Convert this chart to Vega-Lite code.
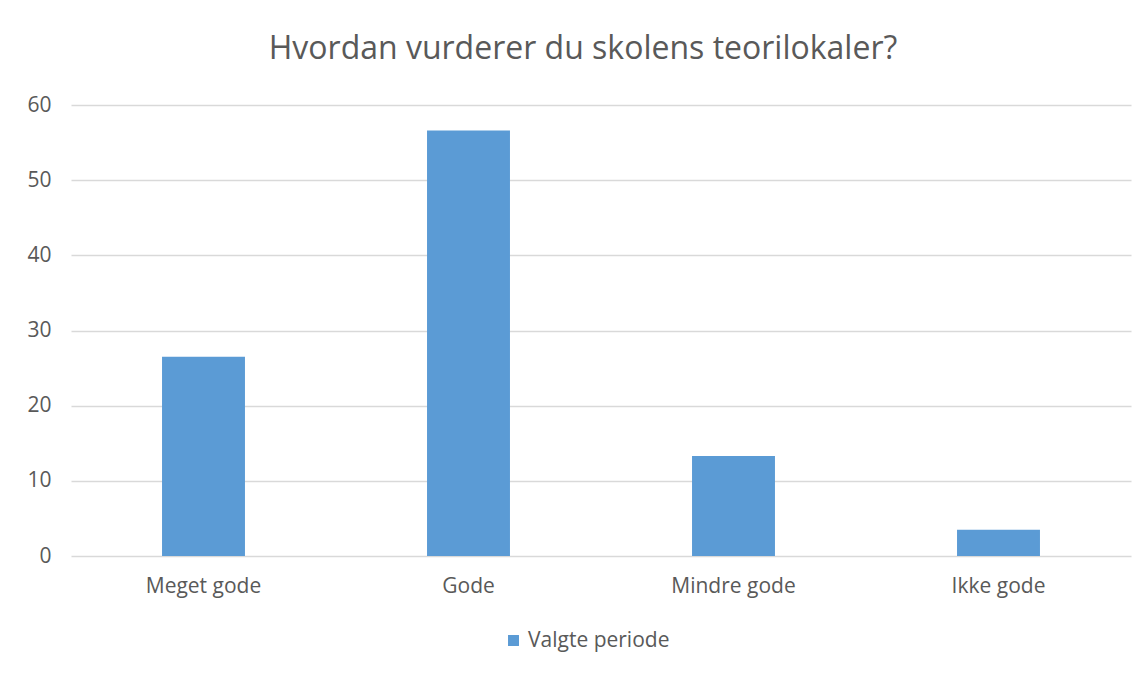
{
  "$schema": "https://vega.github.io/schema/vega-lite/v6.json",
  "autosize": "none",
  "width": 1060,
  "height": 451,
  "padding": {"left": 71, "top": 105, "right": 17, "bottom": 120},
  "background": "white",
  "title": {
    "text": "Hvordan vurderer du skolens teorilokaler?",
    "font": "Open Sans",
    "fontSize": 32,
    "fontWeight": "normal",
    "color": "#595959",
    "anchor": "middle",
    "dx": -18,
    "offset": 28
  },
  "data": {
    "values": [
      {"kategori": "Meget gode", "verdi": 26.5, "serie": "Valgte periode"},
      {"kategori": "Gode", "verdi": 56.6, "serie": "Valgte periode"},
      {"kategori": "Mindre gode", "verdi": 13.3, "serie": "Valgte periode"},
      {"kategori": "Ikke gode", "verdi": 3.5, "serie": "Valgte periode"}
    ]
  },
  "mark": {"type": "bar"},
  "encoding": {
    "x": {
      "field": "kategori",
      "type": "nominal",
      "sort": null,
      "scale": {"paddingInner": 0.687, "paddingOuter": 0.3435},
      "axis": {
        "title": null,
        "labelAngle": 0,
        "labelFont": "Open Sans",
        "labelFontSize": 21,
        "labelColor": "#595959",
        "labelPadding": 19,
        "ticks": false,
        "domain": false,
        "grid": false
      }
    },
    "y": {
      "field": "verdi",
      "type": "quantitative",
      "scale": {"domain": [0, 60]},
      "axis": {
        "title": null,
        "values": [0, 10, 20, 30, 40, 50, 60],
        "labelFont": "Open Sans",
        "labelFontSize": 21,
        "labelColor": "#595959",
        "labelPadding": 20,
        "ticks": false,
        "domain": false,
        "grid": true,
        "gridColor": "#d9d9d9",
        "gridWidth": 1.3
      }
    },
    "color": {
      "field": "serie",
      "type": "nominal",
      "scale": {"range": ["#5b9bd5"]},
      "legend": {
        "title": null,
        "orient": "none",
        "legendX": 432,
        "legendY": 525,
        "symbolType": "square",
        "symbolSize": 120,
        "symbolStrokeWidth": 0,
        "labelFont": "Open Sans",
        "labelFontSize": 21,
        "labelColor": "#595959",
        "labelOffset": 4
      }
    }
  },
  "config": {
    "view": {"stroke": null}
  }
}
